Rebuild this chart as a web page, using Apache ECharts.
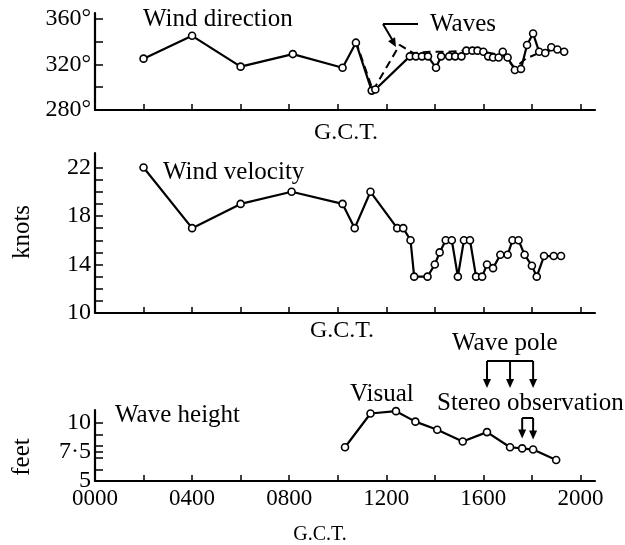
<!DOCTYPE html>
<html><head><meta charset="utf-8">
<script src="https://cdn.jsdelivr.net/npm/echarts@6/dist/echarts.min.js"></script>
<style>html,body{margin:0;padding:0;background:#fff}#c{width:625px;height:545px}</style>
</head><body><div id="c"></div>
<script>
// ---- data (time in hours G.C.T.) ----
const dirTime = [2.0, 4.0, 6.0, 8.15, 10.2, 10.75, 11.4, 11.55, 12.97, 13.22, 13.47, 13.72, 14.05, 14.26, 14.59, 14.84, 15.1, 15.3, 15.55, 15.76, 16.0, 16.2, 16.4, 16.63, 16.8, 17.0, 17.3, 17.55, 17.8, 18.05, 18.3, 18.55, 18.8, 19.05, 19.33];
const dirVal  = [325, 345, 318, 329, 317, 339, 297, 298, 327, 327, 327, 327, 317, 327, 327, 327, 327, 332, 332, 332, 331, 327, 326, 326, 331, 326, 315, 316, 337, 347, 331, 330, 335, 333, 331];
const wavesTime = [10.75, 11.45, 12.55, 13.1, 13.8, 14.5, 15.2, 16.0, 16.8, 17.3, 17.75, 18.3, 19.0];
const wavesDir  = [340, 297, 337, 330, 331, 331, 332, 331, 328, 317, 325, 330, 333];
const velTime = [2.0, 4.0, 6.0, 8.1, 10.2, 10.7, 11.35, 12.45, 12.7, 13.0, 13.15, 13.7, 14.0, 14.2, 14.45, 14.7, 14.95, 15.2, 15.45, 15.7, 15.95, 16.15, 16.4, 16.7, 17.0, 17.2, 17.45, 17.7, 18.0, 18.2, 18.5, 18.9, 19.2];
const velVal  = [22, 17, 19, 20, 19, 17, 20, 17, 17, 16, 13, 13, 14, 15, 16, 16, 13, 16, 16, 13, 13, 14, 13.7, 14.8, 14.8, 16, 16, 14.8, 13.9, 13, 14.7, 14.7, 14.7];
const hTime = [10.3, 11.35, 12.4, 13.2, 14.1, 15.15, 16.15, 17.1, 17.6, 18.05, 19.0];
const hVal  = [7.9, 10.8, 11.0, 10.1, 9.4, 8.4, 9.2, 7.9, 7.8, 7.7, 6.8];
const wavePoleIdx = [6, 7, 9];
const stereoIdx = [8, 9];
// ---- ticks / labels ----
const xTicks = [2, 4, 6, 8, 10, 12, 14, 16, 18, 20];
const xLabels = [0, 4, 8, 12, 16, 20];
const dirTicks = [280, 300, 320, 340, 360];
const dirLabels = [280, 320, 360];
const velTicks = [10, 11, 12, 13, 14, 15, 16, 17, 18, 19, 20, 21, 22];
const velLabels = [10, 14, 18, 22];
const hTicks = [5, 6, 7, 7.5, 8, 9, 10];
const hLabels = [5, 7.5, 10];

const FF = '"Liberation Serif", "DejaVu Serif", serif';
const zip = (a, b) => a.map((t, i) => [t, b[i]]);

function xAx(gi, showLabels) {
  return {
    type: 'value', gridIndex: gi, min: 0, max: 20.6,
    axisLine: { show: true, onZero: false, lineStyle: { color: '#000', width: 2.2 } },
    axisTick: { show: true, inside: true, length: 6, customValues: xTicks, lineStyle: { color: '#000', width: 1.5 } },
    axisLabel: { show: showLabels, customValues: xLabels, margin: 6, color: '#000', fontFamily: FF, fontSize: 23,
      formatter: v => String(Math.round(v * 100)).padStart(4, '0') },
    splitLine: { show: false }
  };
}
function yAx(gi, min, max, ticks, labels, fmt) {
  return {
    type: 'value', gridIndex: gi, min: min, max: max,
    axisLine: { show: true, onZero: false, lineStyle: { color: '#000', width: 2.2 } },
    axisTick: { show: true, inside: true, length: 8, customValues: ticks, lineStyle: { color: '#000', width: 1.5 } },
    axisLabel: { customValues: labels, margin: 4, color: '#000', fontFamily: FF, fontSize: 24, formatter: fmt },
    splitLine: { show: false }
  };
}
const sym = { symbol: 'circle', symbolSize: 7, showSymbol: true,
  itemStyle: { color: '#fff', borderColor: '#000', borderWidth: 1.6 },
  lineStyle: { color: '#000', width: 2.2 } };

const chart = echarts.init(document.getElementById('c'), null, { renderer: 'canvas' });
chart.setOption({
  animation: false,
  backgroundColor: '#fff',
  grid: [
    { left: 95, width: 500, top: 13, height: 97 },
    { left: 95, width: 500, top: 153, height: 160 },
    { left: 95, width: 500, top: 410, height: 71 }
  ],
  xAxis: [xAx(0, false), xAx(1, false), xAx(2, true)],
  yAxis: [
    yAx(0, 280, 365, dirTicks, dirLabels, v => v + '°'),
    yAx(1, 10, 23.2, velTicks, velLabels, v => String(v)),
    yAx(2, 5, 11.1, hTicks, hLabels, v => v === 7.5 ? '7·5' : String(v))
  ],
  series: [
    Object.assign({ type: 'line', name: 'Waves', xAxisIndex: 0, yAxisIndex: 0, data: zip(wavesTime, wavesDir),
      symbol: 'none', lineStyle: { color: '#000', width: 2, type: [8, 5] }, z: 1 }),
    Object.assign({ type: 'line', name: 'Wind direction', xAxisIndex: 0, yAxisIndex: 0, data: zip(dirTime, dirVal), z: 2 }, sym),
    Object.assign({ type: 'line', name: 'Wind velocity', xAxisIndex: 1, yAxisIndex: 1, data: zip(velTime, velVal), z: 2 }, sym),
    Object.assign({ type: 'line', name: 'Wave height', xAxisIndex: 2, yAxisIndex: 2, data: zip(hTime, hVal), z: 2 }, sym)
  ]
});

// ---- annotations ----
const g = [];
function txt(s, x, y, size, align, rot) {
  g.push({ type: 'text', x: x, y: y, rotation: rot || 0, z: 100,
    style: { text: s, font: size + 'px ' + FF, fill: '#000', align: align || 'left', verticalAlign: 'middle' } });
}
function line(x1, y1, x2, y2) {
  g.push({ type: 'line', z: 100, shape: { x1, y1, x2, y2 }, style: { stroke: '#000', lineWidth: 2 } });
}
function head(xt, yt, dx, dy) { // tip at (xt,yt), direction (dx,dy)
  const L = Math.hypot(dx, dy), ux = dx / L, uy = dy / L, px = -uy, py = ux;
  const bx = xt - ux * 9, by = yt - uy * 9;
  g.push({ type: 'polygon', z: 101, shape: { points: [[xt, yt], [bx + px * 4, by + py * 4], [bx - px * 4, by - py * 4]] },
    style: { fill: '#000' } });
}
function downArrow(x, y1, y2) { line(x, y1, x, y2 - 6); head(x, y2, 0, 1); }

txt('Wind direction', 143, 19, 25);
txt('Waves', 430, 24, 25);
txt('Wind velocity', 163, 172, 25);
txt('Wave height', 115, 415, 25);
txt('Visual', 350, 394, 25);
txt('Wave pole', 452, 343, 25);
txt('Stereo observation', 437, 403, 25);
txt('G.C.T.', 346, 133, 24, 'center');
txt('G.C.T.', 342, 331, 24, 'center');
txt('G.C.T.', 320, 535, 20, 'center');
txt('knots', 22, 232, 25, 'center', Math.PI / 2);
txt('feet', 22, 457, 25, 'center', Math.PI / 2);

// Waves pointer
line(418, 24, 383, 24);
line(383, 24, 393, 41);
head(396, 47, 13, 23);

// Wave pole bracket arrows
const wp = wavePoleIdx.map(i => chart.convertToPixel({ xAxisIndex: 2, yAxisIndex: 2 }, [hTime[i], hVal[i]]));
line(wp[0][0], 361, wp[wp.length - 1][0], 361);
wp.forEach(p => downArrow(p[0], 361, 388));
// Stereo observation bracket arrows
const sp = stereoIdx.map(i => chart.convertToPixel({ xAxisIndex: 2, yAxisIndex: 2 }, [hTime[i], hVal[i]]));
line(sp[0][0], 418, sp[sp.length - 1][0], 418);
sp.forEach(p => downArrow(p[0], 418, p[1] - 10));

chart.setOption({ graphic: g });
</script></body></html>
